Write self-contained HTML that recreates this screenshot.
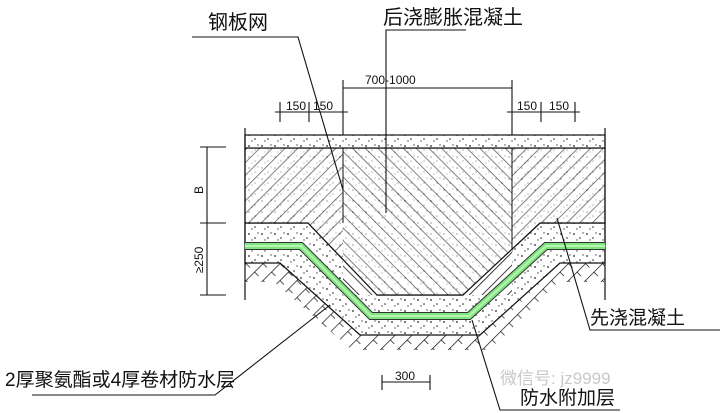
<!DOCTYPE html>
<html><head><meta charset="utf-8"><style>
html,body{margin:0;padding:0;background:#fff;width:720px;height:413px;overflow:hidden}
svg{display:block}
text{font-family:"Liberation Sans","Noto Sans CJK SC",sans-serif;fill:#111}
</style></head><body>
<svg width="720" height="413" viewBox="0 0 720 413" xmlns="http://www.w3.org/2000/svg">
<defs>
<pattern id="hf" width="9" height="9" patternUnits="userSpaceOnUse" patternTransform="rotate(45)">
<rect width="9" height="9" fill="#fff"/><line x1="0" y1="0" x2="0" y2="9" stroke="#111" stroke-width="1.6"/></pattern>
<pattern id="hb" width="9" height="9" patternUnits="userSpaceOnUse" patternTransform="rotate(-45)">
<rect width="9" height="9" fill="#fff"/><line x1="0" y1="0" x2="0" y2="9" stroke="#111" stroke-width="1.6"/></pattern>
<pattern id="dots" width="13" height="11" patternUnits="userSpaceOnUse">
<rect width="13" height="11" fill="#fff"/><circle cx="2" cy="3" r="0.9" fill="#222"/><circle cx="8" cy="7" r="0.8" fill="#222"/><circle cx="11" cy="2" r="0.7" fill="#444"/><circle cx="5" cy="9" r="0.7" fill="#444"/></pattern>
<pattern id="soil" width="12" height="12" patternUnits="userSpaceOnUse" patternTransform="rotate(45)">
<rect width="12" height="12" fill="#fff"/><line x1="0" y1="0" x2="0" y2="12" stroke="#111" stroke-width="1.4"/><line x1="0" y1="0" x2="6" y2="0" stroke="#111" stroke-width="1.4"/></pattern>
</defs>
<polygon points="245,263 280,263 360,335 480,335 560,263 605,263 605,282 566,282 488,350 352,350 274,282 245,282" fill="url(#soil)"/>
<polygon points="245,249 302,249 372,319 468,319 545,249 605,249 605,263 560,263 480,335 360,335 280,263 245,263" fill="url(#dots)" stroke="#111" stroke-width="1.2"/>
<polygon points="245,223 308,223 377,295 463,295 540,223 605,223 605,243 547,243 470,313 370,313 300,243 245,243" fill="url(#dots)" stroke="#111" stroke-width="1.2"/>
<polygon points="245,148 343,148 343,295 377,295 308,223 245,223" fill="url(#hf)"/>
<polygon points="343,148 512,148 512,295 377,295 343,295" fill="url(#hb)"/>
<polygon points="512,148 605,148 605,223 540,223 463,295 512,295" fill="url(#hf)"/>
<polygon points="245,148 605,148 605,223 540,223 463,295 377,295 308,223 245,223" fill="url(#dots)" opacity="0.35"/>
<line x1="343" y1="148" x2="343" y2="223" stroke="#111"/>
<line x1="512" y1="148" x2="512" y2="250" stroke="#111"/>
<polygon points="245,148 605,148 605,223 540,223 463,295 377,295 308,223 245,223" fill="none" stroke="#111" stroke-width="1.2"/>
<rect x="245" y="135" width="360" height="13" fill="url(#dots)" stroke="#111" stroke-width="1.2"/>
<line x1="245" y1="128" x2="245" y2="300" stroke="#111" stroke-width="1.2"/>
<line x1="605" y1="128" x2="605" y2="300" stroke="#111" stroke-width="1.2"/>
<polyline points="245,246 301,246 371,316 469,316 546,246 605,246" fill="none" stroke="#333" stroke-width="8"/>
<polyline points="245,246 301,246 371,316 469,316 546,246 605,246" fill="none" stroke="#7fe67f" stroke-width="6"/>
<polyline points="245,246 301,246 371,316 469,316 546,246 605,246" fill="none" stroke="#b8f5b0" stroke-width="2"/>
<g stroke="#111" stroke-width="1.1" fill="none">
<line x1="343" y1="88" x2="512" y2="88"/><line x1="343" y1="80" x2="343" y2="135"/><line x1="512" y1="80" x2="512" y2="135"/>
<line x1="275" y1="112" x2="348" y2="112"/><line x1="280" y1="102" x2="280" y2="122"/><line x1="309" y1="102" x2="309" y2="122"/>
<line x1="507" y1="112" x2="580" y2="112"/><line x1="541" y1="102" x2="541" y2="122"/><line x1="575" y1="102" x2="575" y2="122"/>
<line x1="207" y1="147" x2="207" y2="295"/><line x1="200" y1="147" x2="226" y2="147"/><line x1="200" y1="223" x2="226" y2="223"/><line x1="200" y1="295" x2="226" y2="295"/>
<line x1="382" y1="382" x2="430" y2="382"/><line x1="382" y1="375" x2="382" y2="390"/><line x1="430" y1="375" x2="430" y2="390"/>
<polyline points="192,37 298,37 343,190"/>
<polyline points="466,30 386,30 386,213"/>
<polyline points="720,330 590,330 557,218"/>
<polyline points="32,395 215,395 330,305"/>
<polyline points="620,410 500,410 472,320"/>
</g>
<text x="365" y="84" font-size="12">700-1000</text>
<text x="286" y="110" font-size="12">150</text><text x="313" y="110" font-size="12">150</text>
<text x="517" y="110" font-size="12">150</text><text x="549" y="110" font-size="12">150</text>
<text x="395" y="380" font-size="12">300</text>
<text transform="translate(203,190) rotate(-90)" font-size="12" text-anchor="middle">B</text>
<text transform="translate(203,260) rotate(-90)" font-size="12" text-anchor="middle">≥250</text>
<text x="208" y="29" font-size="20">钢板网</text>
<text x="383" y="24" font-size="20">后浇膨胀混凝土</text>
<text x="590" y="324" font-size="19">先浇混凝土</text>
<text x="5" y="386" font-size="19">2厚聚氨酯或4厚卷材防水层</text>
<text x="500" y="384" font-size="17" style="fill:#c8c8c8">微信号: jz9999</text>
<text x="520" y="404" font-size="19">防水附加层</text>
</svg>
</body></html>
